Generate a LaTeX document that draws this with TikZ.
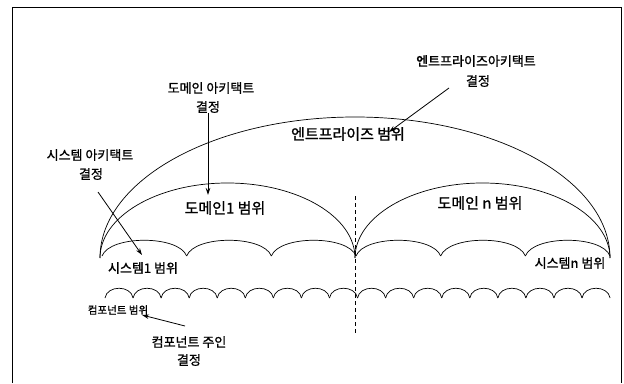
\documentclass[tikz,border=0pt]{standalone}
\usepackage{fontspec}
\setmainfont{Noto Sans CJK KR}
\newfontfamily\krb{Noto Sans CJK KR}[FakeBold=1.2]
\usetikzlibrary{arrows.meta}
\begin{document}
\begin{tikzpicture}[x=1pt,y=-1pt,line width=0.7pt,
  lbl/.style={inner sep=0pt,font=\krb\fontsize{13}{15}\selectfont,align=center},
  big/.style={inner sep=0pt,font=\krb\fontsize{15}{17}\selectfont},
  small/.style={inner sep=0pt,font=\krb\fontsize{10.5}{12}\selectfont},
  arr/.style={-{Stealth[length=7pt,width=4.5pt]},line width=0.8pt},
  curve/.style={line width=0.7pt}]
\useasboundingbox (0,0) rectangle (624,383);
% frame
\draw[line width=0.8pt] (12,383) -- (12,7) -- (621,7) -- (621,383);
% enterprise arc
\draw[curve] (100,258) arc[start angle=180,end angle=0,x radius=255pt,y radius=141pt];
% domain arcs
\draw[curve] (100,258) arc[start angle=180,end angle=0,x radius=127.5pt,y radius=75pt];
\draw[curve] (355,258) arc[start angle=180,end angle=0,x radius=127.5pt,y radius=75pt];
% system arcs
\foreach \i in {0,...,5}{
  \pgfmathsetmacro\a{102+84.67*\i}
  \draw[curve] (\a,256) .. controls (\a+8,235) and (\a+76.67,235) .. (\a+84.67,256);
}
% component arcs
\foreach \i in {0,...,17}{
  \pgfmathsetmacro\a{105+28.06*\i}
  \draw[curve] (\a,298) .. controls (\a+2,285) and (\a+26.06,285) .. (\a+28.06,298);
}
% dashed divider
\coordinate (dtop) at (355,196);
\coordinate (dbot) at (355,333);
\draw[dashed,dash pattern=on 4pt off 3pt,line width=0.8pt] (dtop) -- (dbot);
% labels
\node[lbl] (ea) at (476,61) {엔트프라이즈아키택트};
\node[lbl] (eb) at (478,81) {결정};
\node[big] (escope) at (348,134) {엔트프라이즈 범위};
\node[lbl] (da) at (211,88) {도메인 아키택트};
\node[lbl] (db) at (208,107) {결정};
\node[lbl] (sa) at (90,155) {시스템 아키택트};
\node[lbl] (sb) at (91,174) {결정};
\node[big] (d1) at (225,208) {도메인1 범위};
\node[big] (dn) at (480,203) {도메인 n 범위};
\node[lbl] (s1) at (143,268) {시스템1 범위};
\node[lbl] (sn) at (570,263) {시스템n 범위};
\node[small] (cs) at (118,310) {컴포넌트 범위};
\node[lbl] (ca) at (189,342) {컴포넌트 주인};
\node[lbl] (cb) at (189,360) {결정};
% arrow targets / starts
\coordinate (es) at (449,88);
\coordinate (et) at (389,132);
\coordinate (dt) at (208,195);
\coordinate (ss) at (98,192);
\coordinate (st) at (142,255);
\coordinate (cst) at (185,326);
\coordinate (ct) at (142,315);
\draw[arr] (es) -- (et);
\draw[arr] (db) -- (dt);
\draw[arr] (ss) -- (st);
\draw[arr] (cst) -- (ct);
\end{tikzpicture}
\end{document}
